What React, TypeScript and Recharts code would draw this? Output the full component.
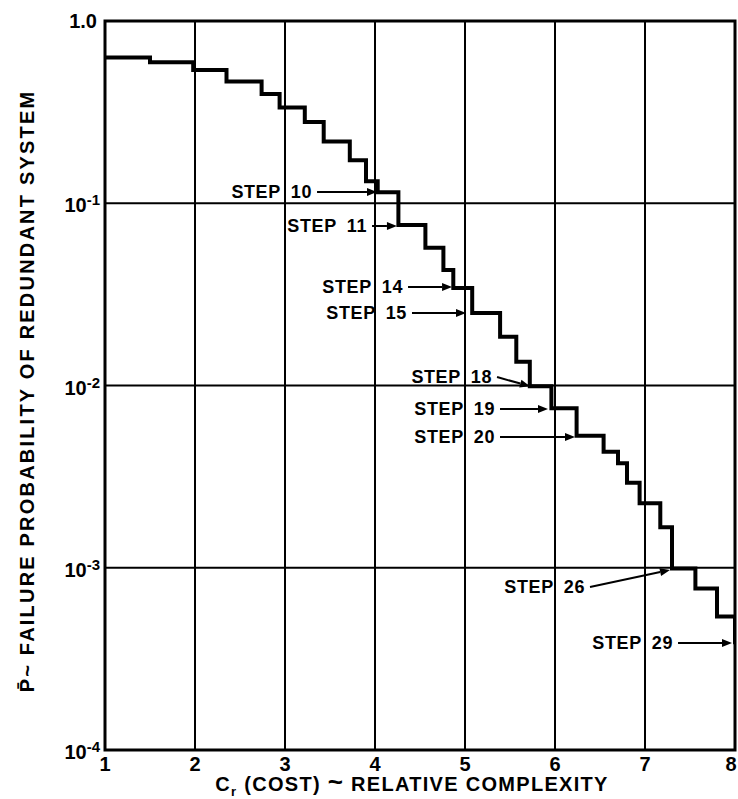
import React from 'react';
import { LineChart, Line, XAxis, YAxis, CartesianGrid, ReferenceArea, ReferenceLine, Label } from 'recharts';

// Step curve: relative complexity (cost) vs failure probability
const costs = [1, 1.5, 1.98, 2.35, 2.74, 2.94, 3.22, 3.43, 3.72, 3.9, 4.03, 4.26, 4.56, 4.76, 4.87, 5.08, 5.39, 5.57, 5.72, 5.96, 6.24, 6.54, 6.7, 6.8, 6.94, 7.17, 7.3, 7.56, 7.8, 8.0, 8.0];
const probs = [0.631, 0.593, 0.538, 0.466, 0.398, 0.335, 0.279, 0.218, 0.172, 0.132, 0.115, 0.076, 0.057, 0.043, 0.0343, 0.025, 0.0185, 0.0135, 0.0099, 0.0075, 0.0053, 0.00433, 0.00374, 0.00293, 0.00226, 0.00167, 0.00099, 0.00077, 0.00054, 0.00054, 0.00039];

const xTicks = [1, 2, 3, 4, 5, 6, 7, 8];
const yTicks = [0.0001, 0.001, 0.01, 0.1, 1];
const yTickExps = ['-4', '-3', '-2', '-1', ''];

// Step annotations
const stepLabels = ['10', '11', '14', '15', '18', '19', '20', '26', '29'];
const arrowFromX = [3.356, 3.967, 4.367, 4.411, 5.356, 5.389, 5.389, 6.389, 7.367];
const arrowFromY = [0.1152, 0.075, 0.0347, 0.025, 0.01113, 0.00743, 0.00522, 0.000784, 0.000386];
const arrowToX = [4.022, 4.244, 4.856, 5.011, 5.722, 5.922, 6.222, 7.278, 7.967];
const arrowToY = [0.1152, 0.075, 0.0347, 0.025, 0.0099, 0.00743, 0.00522, 0.000972, 0.000386];

const data = costs.map((c, i) => ({ c, p: probs[i] }));

const FONT = '"Liberation Sans", Arial, Helvetica, sans-serif';

const XTick = (props: any) => {
  const { x, y, payload } = props;
  const cx = Math.min(x, 738 - 7);
  return (
    <text x={cx} y={y + 21} textAnchor="middle" fontFamily={FONT} fontWeight="bold" fontSize={20} fill="#000">
      {payload.value}
    </text>
  );
};

const YTick = (props: any) => {
  const { x, y, payload } = props;
  const idx = yTicks.indexOf(payload.value);
  const exp = yTickExps[idx];
  if (exp === '') {
    return (
      <text x={x - 8} y={y + 7} textAnchor="end" fontFamily={FONT} fontWeight="bold" fontSize={20} fill="#000">
        1.0
      </text>
    );
  }
  return (
    <text x={x - 5} y={y + 9} textAnchor="end" fontFamily={FONT} fontWeight="bold" fontSize={20} fill="#000">
      10
      <tspan dy={-7} fontSize={15}>{exp}</tspan>
    </text>
  );
};

const makeArrowShape = (label: string) => (props: any) => {
  const { x1, y1, x2, y2 } = props;
  if (x1 == null || x2 == null) return null;
  const dx = x2 - x1;
  const dy = y2 - y1;
  const len = Math.sqrt(dx * dx + dy * dy) || 1;
  const ux = dx / len;
  const uy = dy / len;
  const head = 10;
  const hw = 4;
  const bx = x2 - ux * head;
  const by = y2 - uy * head;
  const pts = `${x2},${y2} ${bx - uy * hw},${by + ux * hw} ${bx + uy * hw},${by - ux * hw}`;
  return (
    <g>
      <line x1={x1} y1={y1} x2={bx} y2={by} stroke="#000" strokeWidth={2} />
      <polygon points={pts} fill="#000" />
      <text x={x1 - 5} y={y1} textAnchor="end" dominantBaseline="central" fontFamily={FONT} fontWeight="bold" fontSize={18} letterSpacing={0.6} fill="#000">
        <tspan>STEP</tspan>
        <tspan dx={10}>{label}</tspan>
      </text>
    </g>
  );
};

const XTitle = (props: any) => {
  const { viewBox } = props;
  const cx = viewBox.x + viewBox.width / 2 - 8;
  return (
    <text x={cx} y={791} textAnchor="middle" fontFamily={FONT} fontWeight="bold" fontSize={20} letterSpacing={1.3} fill="#000">
      C
      <tspan dy={5} fontSize={13}>r</tspan>
      <tspan dy={-5}>{' (COST) '}</tspan>
      <tspan fontSize={26}>~</tspan>
      <tspan>{' RELATIVE COMPLEXITY'}</tspan>
    </text>
  );
};

const YTitle = () => {
  return (
    <text
      x={27}
      y={391}
      transform="rotate(-90, 27, 391)"
      textAnchor="middle"
      dominantBaseline="central"
      fontFamily={FONT}
      fontWeight="bold"
      fontSize={20}
      letterSpacing={2.2}
      fill="#000"
    >
      {'P\u0304~ FAILURE PROBABILITY OF REDUNDANT SYSTEM'}
    </text>
  );
};

export default function App() {
  return (
    <div style={{ position: 'absolute', left: 0, top: 0, background: '#fff' }}>
      <LineChart width={738} height={799} data={data} margin={{ top: 21, right: 3, bottom: 0, left: 0 }}>
        <CartesianGrid stroke="#000" strokeWidth={2} horizontalValues={yTicks} verticalValues={xTicks} />
        <XAxis
          dataKey="c"
          type="number"
          domain={[1, 8]}
          ticks={xTicks}
          height={49}
          axisLine={false}
          tickLine={false}
          tickSize={0}
          tickMargin={0}
          tick={<XTick />}
          interval={0}
          allowDataOverflow
        >
          <Label content={<XTitle />} />
        </XAxis>
        <YAxis
          type="number"
          scale="log"
          domain={[0.0001, 1]}
          ticks={yTicks}
          width={105}
          axisLine={false}
          tickLine={false}
          tickSize={0}
          tickMargin={0}
          tick={<YTick />}
          interval={0}
          allowDataOverflow
        >
          <Label content={<YTitle />} />
        </YAxis>
        <ReferenceArea x1={1} x2={8} y1={0.0001} y2={1} fill="none" stroke="#000" strokeWidth={3} ifOverflow="visible" />
        <Line type="stepAfter" dataKey="p" stroke="#000" strokeWidth={4} dot={false} isAnimationActive={false} strokeLinejoin="miter" strokeLinecap="square" />
        {stepLabels.map((lab, i) => (
          <ReferenceLine
            key={lab}
            segment={[
              { x: arrowFromX[i], y: arrowFromY[i] },
              { x: arrowToX[i], y: arrowToY[i] },
            ]}
            ifOverflow="visible"
            shape={makeArrowShape(lab)}
          />
        ))}
      </LineChart>
    </div>
  );
}
